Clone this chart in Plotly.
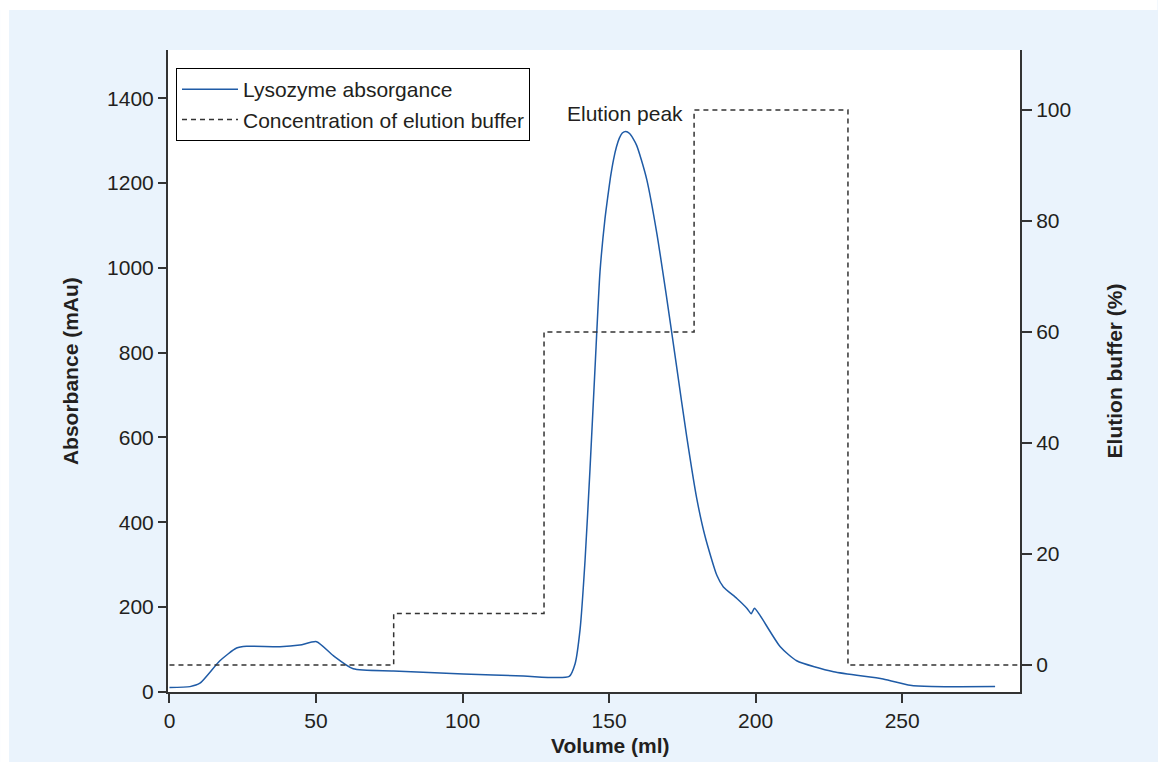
import plotly.graph_objects as go

# Absorbance trace (Volume ml, mAu)
volume_ml = [0, 7, 10.4, 17.2, 22.9, 26.3, 37.7, 44.5, 50.2, 55.9, 62.7, 76.4, 100.3, 120.8,
             136.4, 138.4, 140.1, 141.8, 143.5, 145.2, 146.9, 148.6, 149.5, 150.5, 151.5,
             152.5, 153.5, 154.5, 155.7, 157, 158.2, 159.4, 161, 162.9, 166.3, 169.7, 173.1,
             176.5, 179.9, 182.8, 186.8, 189, 193.6, 197, 198.5, 199.6, 201.5, 208.4, 214,
             226.6, 243.5, 252.7, 260, 281.7]
absorbance_mau = [10, 12, 20, 73, 103, 107, 106, 110, 118, 85, 54, 49, 42, 37,
                  36, 66, 147, 310, 527, 764, 991, 1116, 1165, 1215, 1255,
                  1285, 1306, 1318, 1322, 1317, 1305, 1289, 1255, 1207, 1081, 927, 764,
                  601, 456, 365, 274, 247, 220, 197, 184, 197, 180, 106, 73,
                  47, 30, 15, 12, 12]

# Elution buffer steps (Volume ml, %)
buffer_ml = [0, 76.5, 127.8, 179, 231.5, 290.2]
buffer_pct = [0, 9.3, 60, 100, 0, 0]

x_ticks = [0, 50, 100, 150, 200, 250]
y_ticks = [0, 200, 400, 600, 800, 1000, 1200, 1400]
y2_ticks = [0, 20, 40, 60, 80, 100]

FONT = "Liberation Sans, Arial, Helvetica, sans-serif"
TXT = "#231f20"
AX = "#333333"
BLUE = "#1f5ba6"
FS = 21

fig = go.Figure()
fig.add_trace(go.Scatter(x=volume_ml, y=absorbance_mau, mode="lines",
                         name="Lysozyme absorgance",
                         line=dict(color=BLUE, width=1.5, shape="spline", smoothing=0.6)))
fig.add_trace(go.Scatter(x=buffer_ml, y=buffer_pct, mode="lines", yaxis="y2",
                         name="Concentration of elution buffer",
                         line=dict(color="#333333", width=1.5, shape="hv", dash="5px,4px")))

W, H = 1158, 762
L, R, T, B = 168, 137.5, 50, 70
pw = W - L - R
ph = H - T - B

def px(xs):
    return (xs - L) / pw

def py(ys):
    return (H - B - ys) / ph

axis_common = dict(showgrid=False, zeroline=False, showline=True, linecolor=AX, linewidth=2,
                   ticks="outside", tickcolor=AX, tickwidth=1.5,
                   tickfont=dict(family=FONT, size=FS, color=TXT))

fig.update_layout(
    width=W, height=H,
    margin=dict(l=L, r=R, t=T, b=B, pad=0),
    paper_bgcolor="#EAF3FC",
    plot_bgcolor="white",
    font=dict(family=FONT, size=FS, color=TXT),
    xaxis=dict(range=[-0.5, 290.2], tickvals=x_ticks, ticklen=9, **axis_common),
    yaxis=dict(range=[-0.7, 1514], tickvals=y_ticks, ticklen=8, **axis_common),
    yaxis2=dict(range=[-4.86, 110.8], tickvals=y2_ticks, ticklen=10, overlaying="y",
                side="right", **axis_common),
    legend=dict(x=px(176), y=py(68), xanchor="left", yanchor="top",
                bgcolor="white", bordercolor="black", borderwidth=1, itemwidth=56,
                font=dict(family=FONT, size=FS, color=TXT), tracegroupgap=0),
    showlegend=True,
)

fig.add_annotation(x=175.8, y=1365, xref="x", yref="y", text="Elution peak",
                   showarrow=False, xanchor="right", yanchor="middle",
                   font=dict(family=FONT, size=FS, color=TXT))

fig.add_annotation(x=px(70), y=py(371), xref="paper", yref="paper",
                   text="<b>Absorbance (mAu)</b>", textangle=-90, showarrow=False,
                   xanchor="center", yanchor="middle", font=dict(family=FONT, size=FS, color=TXT))
fig.add_annotation(x=px(1115), y=py(371), xref="paper", yref="paper",
                   text="<b>Elution buffer (%)</b>", textangle=-90, showarrow=False,
                   xanchor="center", yanchor="middle", font=dict(family=FONT, size=FS, color=TXT))
fig.add_annotation(x=px(611), y=py(745), xref="paper", yref="paper",
                   text="<b>Volume (ml)</b>", showarrow=False,
                   xanchor="center", yanchor="middle", font=dict(family=FONT, size=FS, color=TXT))

# white page strips outside the light-blue panel
fig.add_shape(type="rect", xref="paper", yref="paper", x0=px(0), x1=px(9), y0=py(H), y1=py(0),
              fillcolor="white", line=dict(width=0), layer="above")
fig.add_shape(type="rect", xref="paper", yref="paper", x0=px(0), x1=px(W), y0=py(10), y1=py(0),
              fillcolor="white", line=dict(width=0), layer="above")

fig.write_html("out.html", config={"displayModeBar": False},
               post_script="document.body.style.margin='0';document.body.style.overflow='hidden';")
